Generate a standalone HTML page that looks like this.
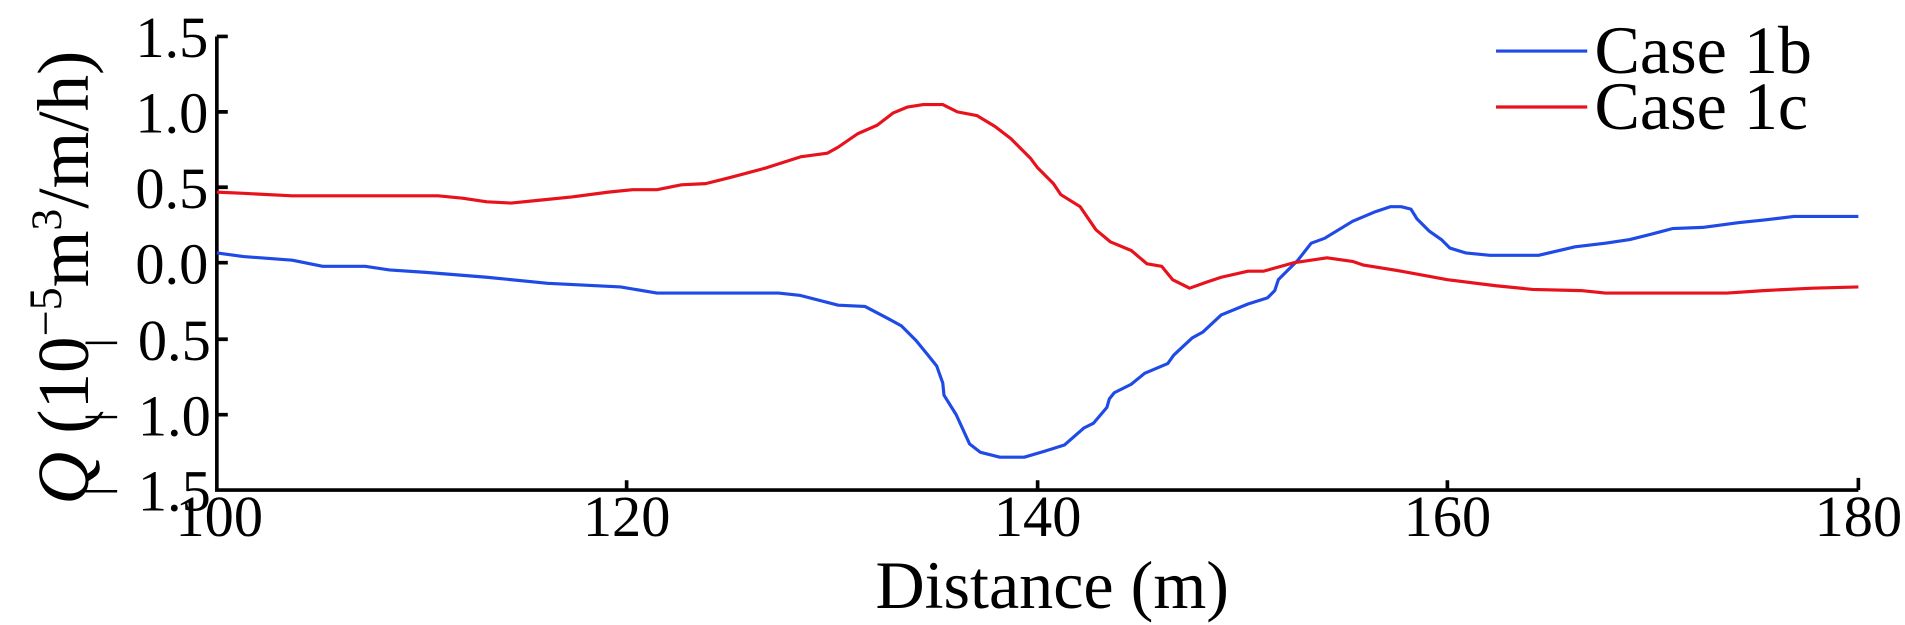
<!DOCTYPE html>
<html><head><meta charset="utf-8"><style>
html,body{margin:0;padding:0;background:#fff;}
svg{display:block;}
text{font-family:"Liberation Serif",serif;fill:#000;}
</style></head><body>
<svg width="1905" height="625" viewBox="0 0 1566 514" xmlns="http://www.w3.org/2000/svg">
<g stroke="#000" stroke-width="3" fill="none">
<path d="M178,30 V403 H1528"/>
<path d="M178,30 H187 M178,92 H187 M178,154 H187 M178,216 H187 M178,279 H187 M178,341 H187"/>
<path d="M515,403 V395 M853,403 V395 M1190,403 V395 M1528,403 V393"/>
</g>
<g font-size="48" text-anchor="end">
<text x="171" y="47">1.5</text>
<text x="171" y="109">1.0</text>
<text x="171" y="171">0.5</text>
<text x="171" y="233">0.0</text>
<text x="173" y="296">0.5</text>
<text x="173" y="358">1.0</text>
<text x="173" y="420">1.5</text>
</g>
<g stroke="#000" stroke-width="2">
<path d="M70,282 H96 M70,343 H96 M70,404 H96"/>
</g>
<g font-size="48" text-anchor="middle">
<text x="180" y="441">100</text>
<text x="515" y="441">120</text>
<text x="853" y="441">140</text>
<text x="1190" y="441">160</text>
<text x="1528" y="441">180</text>
<text x="865" y="500" font-size="56">Distance (m)</text>
</g>
<text transform="translate(72,415) rotate(-90)" font-size="60"><tspan font-style="italic">Q</tspan> (10<tspan font-size="38" dy="-22">−5</tspan><tspan dy="22">m</tspan><tspan font-size="36" dy="-22">3</tspan><tspan dy="22">/m/h)</tspan></text>
<g fill="none" stroke-width="2.6" stroke-linejoin="round">
<polyline stroke="#1f4ae6" points="178,208 200,211 240,214 265,219 300,219 320,222 350,224 400,228 450,233 510,236 540,241 600,241 640,241 658,243 689,251 711,252 730,262 741,268 753,280 762,291 770,301 775,315 776,325 786,341 797,365 806,372 822,376 842,376 859,371 875,366 891,352 899,348 910,335 912,328 916,323 930,316 941,307 960,299 965,292 980,278 989,273 1004,259 1026,250 1042,245 1048,239 1051,230 1067,214 1078,200 1089,196 1112,182 1131,174 1143,170 1152,170 1160,172 1165,180 1175,190 1185,197 1192,204 1205,208 1225,210 1265,210 1295,203 1320,200 1340,197 1360,192 1375,188 1400,187 1430,183 1450,181 1475,178 1528,178"/>
<polyline stroke="#e8121c" points="178,158 200,159 240,161 300,161 360,161 380,163 400,166 420,167 440,165 470,162 500,158 520,156 540,156 560,152 580,151 600,146 630,138 658,129 680,126 689,121 705,110 721,103 734,93 746,88 759,86 775,86 787,92 803,95 818,104 831,114 847,130 853,138 866,151 872,160 888,170 901,189 913,199 930,206 943,217 955,219 964,230 978,237 992,232 1004,228 1026,223 1039,223 1064,216 1091,212 1112,215 1121,218 1152,223 1190,230 1230,235 1260,238 1300,239 1320,241 1380,241 1420,241 1450,239 1490,237 1528,236"/>
<line x1="1230" y1="42" x2="1305" y2="42" stroke="#1f4ae6"/>
<line x1="1230" y1="88" x2="1305" y2="88" stroke="#e8121c"/>
</g>
<text x="1311" y="60" font-size="56">Case 1b</text>
<text x="1311" y="106" font-size="56">Case 1c</text>
</svg>
</body></html>
